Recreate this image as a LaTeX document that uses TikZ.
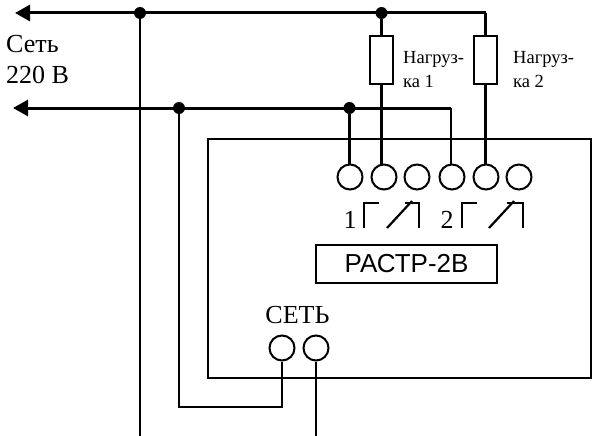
\documentclass[tikz,border=0pt]{standalone}
\usepackage{fontspec}
\setmainfont{Liberation Serif}
\newfontfamily\arialfont{Liberation Sans}
\usetikzlibrary{arrows.meta}

\tikzset{
  wire/.style={line width=2.2pt},
  bus/.style={line width=3pt},
  busarrow/.style={bus, -{Triangle[length=15pt,width=16pt]}},
  junction/.style={circle, fill=black, inner sep=0pt, minimum size=12pt},
  terminal/.style={circle, draw, line width=2pt, inner sep=0pt, minimum size=25pt},
  loadbox/.style={draw, line width=2pt, inner sep=0pt, minimum width=23pt, minimum height=48pt},
  loadlabel/.style={align=left, anchor=west, inner sep=0pt, font=\fontsize{18.5}{24}\selectfont},
  bigtext/.style={inner sep=0pt, font=\fontsize{26}{31}\selectfont}
}

\begin{document}
\begin{tikzpicture}[x=1pt, y=-1pt]
                      \useasboundingbox (0,0) rectangle (592,436);
                      % housing
                      \draw[wire] (208,139) rectangle (591,378);
                      \node[draw, line width=2pt, minimum width=181pt, minimum height=38pt, inner sep=0pt, font=\arialfont\fontsize{26}{31}\selectfont] (model) at (406.5,264) {РАСТР-2В};
                      % terminals
                      \node[terminal] (t1) at (350,177) {};
                      \node[terminal] (t2) at (384,177) {};
                      \node[terminal] (t3) at (417,177) {};
                      \node[terminal] (t4) at (452,177) {};
                      \node[terminal] (t5) at (486,177) {};
                      \node[terminal] (t6) at (519,177) {};
                      \node[terminal] (mains1) at (282,348) {};
                      \node[terminal] (mains2) at (316,348) {};
                      % loads
                      \node[loadbox] (load1) at (381.5,60) {};
                      \node[loadbox] (load2) at (485.5,60) {};
                      % junctions
                      \node[junction] (j1) at (140,13) {};
                      \node[junction] (j2) at (381.5,13) {};
                      \node[junction] (j3) at (179,108) {};
                      \node[junction] (j4) at (349.5,108) {};
                      \coordinate (top) at (15,13);
                      \coordinate (second) at (13,108);
                      \coordinate (topcorner) at (485.5,13);
                      \coordinate (secondcorner) at (451,108);
                      \coordinate (earth) at (140,436);
                      \coordinate (mainsend) at (316,436);
                      \coordinate (mainscorner) at (282,407);
                      % buses
                      \draw[busarrow] (j1.center) -- (top);
                      \draw[bus] (j1.center) -- (j2.center) -- (topcorner);
                      \draw[busarrow] (j3.center) -- (second);
                      \draw[bus] (j3.center) -- (j4.center) -- (secondcorner);
                      % wires
                      \draw[wire] (j1) -- (earth);
                      \draw[wire] (j2) -- (load1);
                      \draw[wire] (load1) -- (load1 |- t2.north);
                      \draw[wire] (topcorner) -- (load2);
                      \draw[wire] (load2) -- (load2 |- t5.north);
                      \draw[wire] (j4) -- (j4 |- t1.north);
                      \draw[wire] (secondcorner) -- (secondcorner |- t4.north);
                      \draw[wire] (j3) |- (mainscorner) -- (mains1);
                      \draw[wire] (mains2) -- (mainsend);
                      % contacts
                      \draw[wire] (364,228) -- (364,203) -- (379,203);
                      \draw[wire] (387,228) -- (412,201);
                      \draw[wire] (405,203) -- (419,203) -- (419,228);
                      \draw[wire] (462,228) -- (462,203) -- (477,203);
                      \draw[wire] (489,228) -- (514,201);
                      \draw[wire] (507,203) -- (523,203) -- (523,228);
                      % labels
                      \node[bigtext, anchor=base west] (net) at (6,53) {Сеть};
                      \node[bigtext, anchor=base west] (volt) at (6,84) {220 В};
                      \node[bigtext, anchor=base] (mains) at (297.5,323) {СЕТЬ};
                      \node[bigtext, anchor=base] (c1) at (350,228) {1};
                      \node[bigtext, anchor=base] (c2) at (447,228) {2};
                      \node[loadlabel] (name1) at (403,70) {Нагруз-\\ка 1};
                      \node[loadlabel] (name2) at (513,70) {Нагруз-\\ка 2};
                    \end{tikzpicture}
\end{document}
